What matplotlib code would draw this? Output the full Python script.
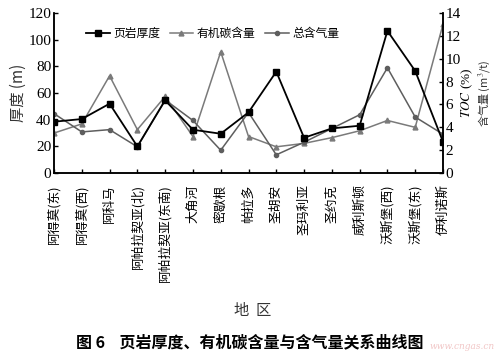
import matplotlib
matplotlib.use("Agg")
import matplotlib.pyplot as plt
from matplotlib.lines import Line2D

plt.rcParams['font.family'] = ['Noto Sans CJK SC', 'DejaVu Sans']
plt.rcParams['mathtext.fontset'] = 'stix'

regions = ["阿得莫(东)", "阿得莫(西)", "阿科马", "阿帕拉契亚(北)", "阿帕拉契亚(东南)",
           "大角河", "密歇根", "帕拉多", "圣胡安", "圣玛利亚", "圣约克", "威利斯顿",
           "沃斯堡(西)", "沃斯堡(东)", "伊利诺斯"]
thickness = [38.5, 40.5, 52, 20, 54.5, 32.5, 29.5, 45.5, 76, 26.5, 33.5, 35.5, 106.5, 76.5, 23.5]
toc = [3.5, 4.3, 8.5, 3.8, 6.7, 3.2, 10.6, 3.2, 2.3, 2.6, 3.1, 3.7, 4.6, 4.0, 13.0]
gas = [5.2, 3.6, 3.8, 2.3, 6.4, 4.6, 2.0, 5.3, 1.6, 2.7, 3.9, 5.1, 9.2, 4.9, 3.4]

left_ticks = [0, 20, 40, 60, 80, 100, 120]
right_ticks = [0, 2, 4, 6, 8, 10, 12, 14]

fig = plt.figure(figsize=(5.0, 3.57), dpi=100)
ax = fig.add_axes([0.108, 0.515, 0.778, 0.449])
ax2 = ax.twinx()

x = list(range(len(regions)))
gray1 = '#7a7a7a'
gray2 = '#5e5e5e'
ax2.plot(x, toc, color=gray1, lw=1.1, marker='^', ms=3.5, zorder=2)
ax2.plot(x, gas, color=gray2, lw=1.1, marker='o', ms=3, zorder=2)
ax.plot(x, thickness, color='black', lw=1.3, marker='s', ms=3.8, zorder=3)
ax.set_zorder(ax2.get_zorder() + 1)
ax.patch.set_visible(False)

ax.set_xlim(0, 14)
ax.set_ylim(0, 120)
ax2.set_ylim(0, 14)
ax.set_yticks(left_ticks)
ax2.set_yticks(right_ticks)
ax.set_xticks(x)
ax.set_xticklabels(regions, rotation=90, va='top', ha='center', fontsize=9.2)

for a in (ax, ax2):
    a.spines['top'].set_visible(False)
    for s in a.spines.values():
        s.set_linewidth(1.1)
ax.tick_params(axis='y', direction='in', length=3, width=1, pad=2,
               labelsize=11, labelfontfamily='Liberation Serif')
ax.tick_params(axis='x', direction='in', length=3, width=1, pad=8)
ax2.tick_params(axis='y', direction='in', length=3, width=1, pad=2,
                labelsize=11, labelfontfamily='Liberation Serif')

ax.set_ylabel("厚度 (m)", fontsize=11, labelpad=1, color='#333333')

fig.text(0.935, 0.74, "$\\it{TOC}$ (%)", rotation=90, fontsize=9.5,
         ha='center', va='center', family=['Liberation Serif'])
fig.text(0.968, 0.74, "含气量 (m$^3$/t)", rotation=90, fontsize=8,
         ha='center', va='center', color='#333333')

handles = [Line2D([], [], color='black', lw=1.3, marker='s', ms=3.8),
           Line2D([], [], color=gray1, lw=1.1, marker='^', ms=3.5),
           Line2D([], [], color=gray2, lw=1.1, marker='o', ms=3)]
ax.legend(handles, ["页岩厚度", "有机碳含量", "总含气量"], ncol=3, frameon=False,
          loc='upper left', bbox_to_anchor=(0.07, 0.94), fontsize=8.5,
          handlelength=2.0, columnspacing=0.8, handletextpad=0.3, borderaxespad=0)

fig.text(0.505, 0.131, "地  区", ha='center', va='center', fontsize=11, color='#333333')
fig.text(0.5, 0.04, "图 6    页岩厚度、有机碳含量与含气量关系曲线图", ha='center', va='center',
         fontsize=11.5, fontweight='bold')
fig.text(0.99, 0.03, "www.cngas.cn", ha='right', va='center', fontsize=6.5, color='#e8a0a0',
         style='italic', alpha=0.6, family='DejaVu Serif')

fig.savefig("out.png", dpi=100)
